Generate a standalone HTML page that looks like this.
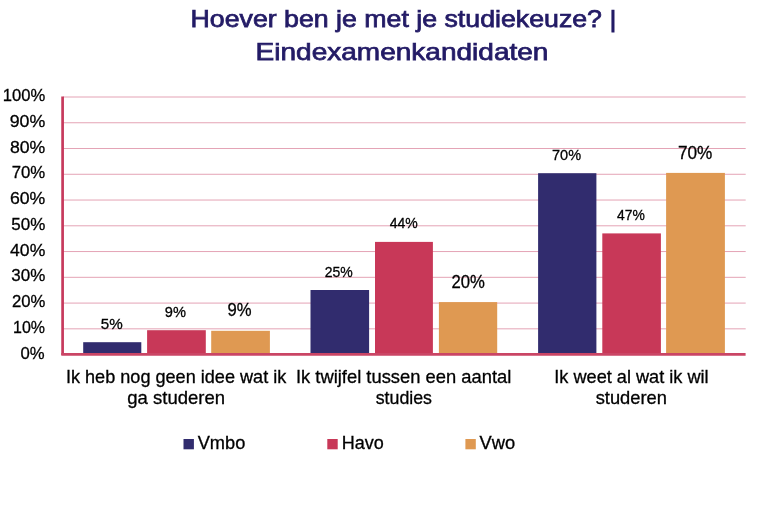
<!DOCTYPE html>
<html><head><meta charset="utf-8"><title>Hoever ben je met je studiekeuze? | Eindexamenkandidaten</title>
<style>
html,body{margin:0;padding:0;background:#fff;}
body{width:762px;height:532px;overflow:hidden;position:relative;}
svg{position:absolute;left:0;top:0;display:block;will-change:transform;}
text{font-family:"Liberation Sans", Arial, sans-serif;}
</style></head><body>
<svg width="762" height="532" viewBox="0 0 762 532">
<line x1="63" y1="328.84" x2="745.7" y2="328.84" stroke="#e4a3b5" stroke-width="1"/>
<line x1="63" y1="303.08" x2="745.7" y2="303.08" stroke="#e4a3b5" stroke-width="1"/>
<line x1="63" y1="277.32" x2="745.7" y2="277.32" stroke="#e4a3b5" stroke-width="1"/>
<line x1="63" y1="251.56" x2="745.7" y2="251.56" stroke="#e4a3b5" stroke-width="1"/>
<line x1="63" y1="225.80" x2="745.7" y2="225.80" stroke="#e4a3b5" stroke-width="1"/>
<line x1="63" y1="200.04" x2="745.7" y2="200.04" stroke="#e4a3b5" stroke-width="1"/>
<line x1="63" y1="174.28" x2="745.7" y2="174.28" stroke="#e4a3b5" stroke-width="1"/>
<line x1="63" y1="148.52" x2="745.7" y2="148.52" stroke="#e4a3b5" stroke-width="1"/>
<line x1="63" y1="122.76" x2="745.7" y2="122.76" stroke="#e4a3b5" stroke-width="1"/>
<line x1="63" y1="97.00" x2="745.7" y2="97.00" stroke="#e4a3b5" stroke-width="1"/>
<rect x="83.2" y="342.2" width="58.1" height="12.3" fill="#312c6e"/>
<rect x="147.1" y="330.2" width="58.7" height="24.3" fill="#c83858"/>
<rect x="211.2" y="330.8" width="58.7" height="23.7" fill="#df9952"/>
<rect x="310.5" y="290.0" width="58.6" height="64.5" fill="#312c6e"/>
<rect x="375.0" y="241.9" width="57.9" height="112.6" fill="#c83858"/>
<rect x="438.9" y="302.1" width="58.3" height="52.4" fill="#df9952"/>
<rect x="538.1" y="173.2" width="58.3" height="181.3" fill="#312c6e"/>
<rect x="602.3" y="233.4" width="58.6" height="121.1" fill="#c83858"/>
<rect x="666.1" y="172.9" width="58.8" height="181.6" fill="#df9952"/>
<line x1="62.6" y1="96.6" x2="62.6" y2="355" stroke="#c73a5d" stroke-width="2.7"/>
<line x1="61.3" y1="354.4" x2="745.6" y2="354.4" stroke="#ca4565" stroke-width="2.9"/>
<rect x="183.5" y="439.0" width="10.4" height="10.3" fill="#312c6e"/>
<rect x="327.3" y="439.0" width="10.4" height="10.3" fill="#c83858"/>
<rect x="465.4" y="439.0" width="10.4" height="10.3" fill="#df9952"/>
<text x="20.50" y="358.60" font-size="17.4" stroke="#000" stroke-width="0.3" fill="#000" textLength="24.10" lengthAdjust="spacingAndGlyphs">0%</text>
<text x="13.00" y="332.84" font-size="17.4" stroke="#000" stroke-width="0.3" fill="#000" textLength="31.99" lengthAdjust="spacingAndGlyphs">10%</text>
<text x="11.90" y="307.08" font-size="17.4" stroke="#000" stroke-width="0.3" fill="#000" textLength="33.39" lengthAdjust="spacingAndGlyphs">20%</text>
<text x="11.30" y="281.32" font-size="17.4" stroke="#000" stroke-width="0.3" fill="#000" textLength="33.99" lengthAdjust="spacingAndGlyphs">30%</text>
<text x="10.10" y="255.56" font-size="17.4" stroke="#000" stroke-width="0.3" fill="#000" textLength="35.19" lengthAdjust="spacingAndGlyphs">40%</text>
<text x="11.30" y="229.80" font-size="17.4" stroke="#000" stroke-width="0.3" fill="#000" textLength="33.99" lengthAdjust="spacingAndGlyphs">50%</text>
<text x="9.90" y="204.04" font-size="17.4" stroke="#000" stroke-width="0.3" fill="#000" textLength="35.39" lengthAdjust="spacingAndGlyphs">60%</text>
<text x="11.70" y="178.28" font-size="17.4" stroke="#000" stroke-width="0.3" fill="#000" textLength="33.59" lengthAdjust="spacingAndGlyphs">70%</text>
<text x="9.90" y="152.52" font-size="17.4" stroke="#000" stroke-width="0.3" fill="#000" textLength="35.39" lengthAdjust="spacingAndGlyphs">80%</text>
<text x="9.70" y="126.76" font-size="17.4" stroke="#000" stroke-width="0.3" fill="#000" textLength="35.59" lengthAdjust="spacingAndGlyphs">90%</text>
<text x="2.70" y="101.00" font-size="17.4" stroke="#000" stroke-width="0.3" fill="#000" textLength="42.48" lengthAdjust="spacingAndGlyphs">100%</text>
<text x="100.80" y="329.00" font-size="15.2" stroke="#000" stroke-width="0.3" fill="#000" textLength="21.92" lengthAdjust="spacingAndGlyphs">5%</text>
<text x="164.75" y="317.00" font-size="15.2" stroke="#000" stroke-width="0.3" fill="#000" textLength="21.12" lengthAdjust="spacingAndGlyphs">9%</text>
<text x="227.60" y="315.90" font-size="18.2" stroke="#000" stroke-width="0.3" fill="#000" textLength="24.10" lengthAdjust="spacingAndGlyphs">9%</text>
<text x="324.80" y="276.90" font-size="15.2" stroke="#000" stroke-width="0.3" fill="#000" textLength="28.03" lengthAdjust="spacingAndGlyphs">25%</text>
<text x="389.80" y="227.80" font-size="15.2" stroke="#000" stroke-width="0.3" fill="#000" textLength="28.03" lengthAdjust="spacingAndGlyphs">44%</text>
<text x="451.50" y="288.10" font-size="18.2" stroke="#000" stroke-width="0.3" fill="#000" textLength="33.41" lengthAdjust="spacingAndGlyphs">20%</text>
<text x="552.00" y="160.00" font-size="15.2" stroke="#000" stroke-width="0.3" fill="#000" textLength="29.03" lengthAdjust="spacingAndGlyphs">70%</text>
<text x="617.00" y="220.00" font-size="15.2" stroke="#000" stroke-width="0.3" fill="#000" textLength="27.83" lengthAdjust="spacingAndGlyphs">47%</text>
<text x="678.00" y="158.80" font-size="18.2" stroke="#000" stroke-width="0.3" fill="#000" textLength="34.41" lengthAdjust="spacingAndGlyphs">70%</text>
<text x="190.50" y="27.00" font-size="24" stroke="#231b66" stroke-width="0.75" fill="#231b66" textLength="425.85" lengthAdjust="spacingAndGlyphs">Hoever ben je met je studiekeuze? |</text>
<text x="255.60" y="60.20" font-size="24" stroke="#231b66" stroke-width="0.75" fill="#231b66" textLength="292.86" lengthAdjust="spacingAndGlyphs">Eindexamenkandidaten</text>
<text x="65.90" y="382.80" font-size="17.9" stroke="#000" stroke-width="0.3" fill="#000" textLength="220.43" lengthAdjust="spacingAndGlyphs">Ik heb nog geen idee wat ik</text>
<text x="127.30" y="404.40" font-size="17.9" stroke="#000" stroke-width="0.3" fill="#000" textLength="97.70" lengthAdjust="spacingAndGlyphs">ga studeren</text>
<text x="295.90" y="382.80" font-size="17.9" stroke="#000" stroke-width="0.3" fill="#000" textLength="215.44" lengthAdjust="spacingAndGlyphs">Ik twijfel tussen een aantal</text>
<text x="375.70" y="404.40" font-size="17.9" stroke="#000" stroke-width="0.3" fill="#000" textLength="56.29" lengthAdjust="spacingAndGlyphs">studies</text>
<text x="554.30" y="382.80" font-size="17.9" stroke="#000" stroke-width="0.3" fill="#000" textLength="154.32" lengthAdjust="spacingAndGlyphs">Ik weet al wat ik wil</text>
<text x="595.70" y="404.40" font-size="17.9" stroke="#000" stroke-width="0.3" fill="#000" textLength="71.23" lengthAdjust="spacingAndGlyphs">studeren</text>
<text x="197.70" y="448.80" font-size="18" stroke="#000" stroke-width="0.3" fill="#000" textLength="47.63" lengthAdjust="spacingAndGlyphs">Vmbo</text>
<text x="341.70" y="448.80" font-size="18" stroke="#000" stroke-width="0.3" fill="#000" textLength="42.03" lengthAdjust="spacingAndGlyphs">Havo</text>
<text x="479.60" y="448.80" font-size="18" stroke="#000" stroke-width="0.3" fill="#000" textLength="35.62" lengthAdjust="spacingAndGlyphs">Vwo</text>
</svg></body></html>
